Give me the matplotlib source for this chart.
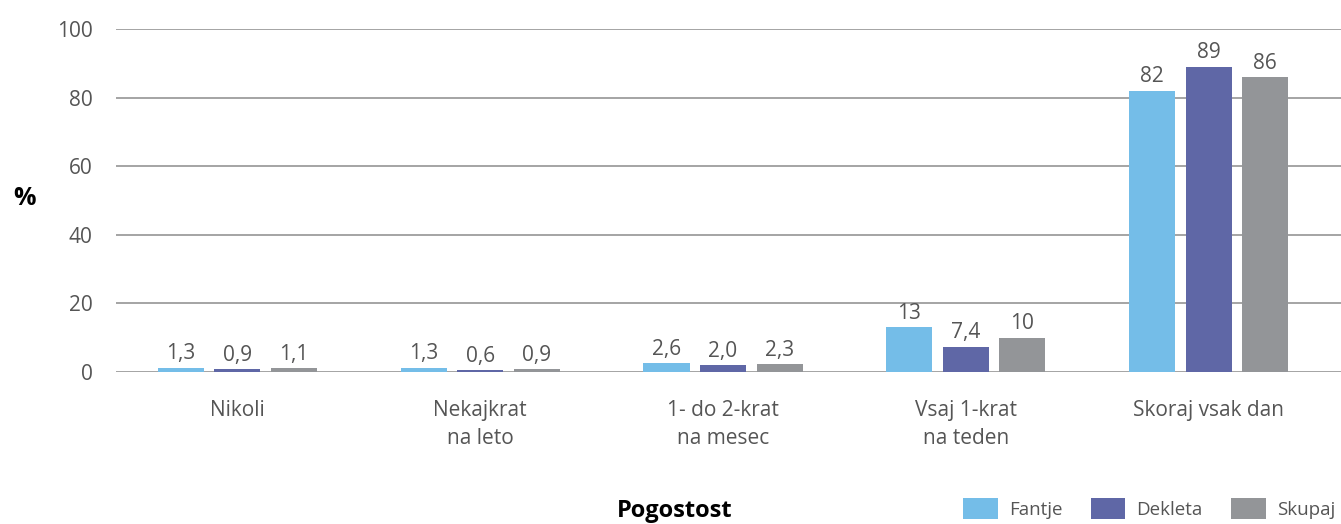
import numpy as np
import matplotlib.pyplot as plt
from matplotlib.patches import Patch

# ========== data ==========
categories = ["Nikoli", "Nekajkrat\nna leto", "1- do 2-krat\nna mesec", "Vsaj 1-krat\nna teden", "Skoraj vsak dan"]
series_names = ["Fantje", "Dekleta", "Skupaj"]
fantje = [1.3, 1.3, 2.6, 13, 82]
dekleta = [0.9, 0.6, 2.0, 7.4, 89]
skupaj = [1.1, 0.9, 2.3, 10, 86]
y_ticks = [0, 20, 40, 60, 80, 100]

colors = ["#74BDE8", "#5F67A6", "#939598"]
text_color = "#555555"

plt.rcParams["font.family"] = ["Open Sans", "DejaVu Sans"]


def fmt(v):
    if v >= 10:
        return f"{v:.0f}"
    return f"{v:.1f}".replace(".", ",")


fig = plt.figure(figsize=(13.41, 5.24), dpi=100)
ax = fig.add_axes([0.0865, 0.290, 0.9135, 0.6546])

x = np.arange(len(categories))
width = 0.19
step = 0.233

for i, (vals, c) in enumerate(zip([fantje, dekleta, skupaj], colors)):
    pos = x + (i - 1) * step
    ax.bar(pos, vals, width=width, color=c, zorder=3)
    for p, v in zip(pos, vals):
        ax.text(p, v + 1.0, fmt(v), ha="center", va="bottom",
                fontsize=15, color=text_color, zorder=4)

ax.set_xlim(-0.5, len(categories) - 0.455)
ax.set_ylim(0, 100)
ax.set_yticks(y_ticks)
ax.set_yticklabels([str(t) for t in y_ticks], fontsize=15, color=text_color)
ax.set_xticks(x)
ax.set_xticklabels(categories, fontsize=15, color=text_color, linespacing=1.45)
ax.tick_params(axis="both", length=0)
ax.tick_params(axis="y", pad=17)
ax.tick_params(axis="x", pad=20)
for s in ax.spines.values():
    s.set_visible(False)
ax.yaxis.grid(True, color="#8c8c8c", linewidth=1.1, zorder=0)
ax.set_axisbelow(True)

fig.text(0.018, 0.622, "%", fontsize=18, fontweight="bold", ha="center", va="center")
fig.text(0.503, 0.025, "Pogostost", fontsize=17, fontweight="bold", ha="center", va="center")

handles = [Patch(facecolor=c, edgecolor="none") for c in colors]
fig.legend(handles, series_names, loc="lower right", bbox_to_anchor=(1.004, -0.012),
           ncol=3, frameon=False, fontsize=13.5, labelcolor=text_color,
           handlelength=1.85, handleheight=1.35, handletextpad=0.6,
           columnspacing=1.5, borderaxespad=0.2)

fig.savefig("out.png", dpi=100)
